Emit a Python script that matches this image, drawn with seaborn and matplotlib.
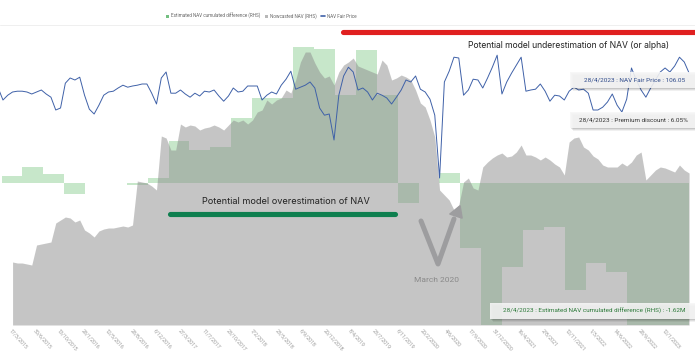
import numpy as np
import pandas as pd
import matplotlib
matplotlib.use("Agg")
import matplotlib.pyplot as plt
import seaborn as sns
from matplotlib.lines import Line2D
from matplotlib.patches import Patch, Rectangle, Polygon

# -------- data --------
# NAV fair price, sampled every 21 days, last point 28/4/2023
nav_fair_price = [
    102.3, 99.3, 100.5, 101.3, 101.5, 101.5, 101.3, 100.8, 101.3, 101.8,
    100.8, 100.0, 96.8, 97.3, 103.5, 104.8, 104.3, 105.0, 100.5, 97.0,
    95.8, 98.0, 100.5, 101.3, 101.5, 102.3, 103.0, 102.5, 102.8, 103.0,
    103.3, 103.3, 101.0, 98.3, 104.8, 106.3, 101.0, 101.0, 101.8, 100.8,
    100.0, 101.0, 100.3, 101.5, 101.3, 101.8, 100.3, 99.0, 100.3, 102.3,
    101.3, 101.5, 102.8, 102.8, 102.8, 99.3, 100.5, 101.3, 100.8, 103.0,
    104.5, 106.5, 102.0, 102.5, 103.0, 103.8, 102.3, 97.3, 95.5, 95.8,
    89.3, 100.5, 105.3, 107.5, 106.3, 101.8, 102.3, 101.3, 99.3, 101.0,
    100.5, 99.8, 98.3, 100.0, 101.8, 104.3, 103.8, 105.3, 102.0, 101.3,
    99.5, 95.5, 79.8, 103.8, 106.5, 110.0, 109.8, 100.5, 101.8, 104.5,
    104.3, 102.3, 104.8, 107.5, 110.5, 100.8, 103.8, 106.0, 108.0, 110.0,
    101.5, 101.8, 102.0, 103.3, 101.5, 99.0, 100.5, 100.3, 99.3, 101.5,
    102.5, 101.8, 102.0, 101.0, 96.8, 96.8, 97.5, 98.8, 100.8, 98.0,
    96.3, 99.5, 107.3, 104.3, 101.8, 100.0, 102.3, 104.3, 106.3, 107.3,
    106.3, 107.8, 110.0, 108.8, 106.05,
]

# Nowcasted NAV (RHS, millions), same dates
nowcasted_nav = [
    np.nan, np.nan, np.nan, 6.3, 6.2, 6.2, 6.1, 6.0, 8.0, 8.1,
    8.2, 8.3, 10.2, 10.5, 10.8, 10.7, 10.3, 10.5, 9.5, 9.2,
    8.8, 9.4, 9.6, 9.7, 9.7, 9.8, 9.9, 9.8, 10.0, 14.4,
    14.3, 14.2, 13.9, 13.5, 18.9, 18.7, 17.5, 17.5, 20.1, 19.8,
    20.0, 19.9, 19.5, 19.7, 19.8, 20.0, 19.8, 19.5, 20.0, 20.5,
    20.3, 20.5, 20.1, 20.5, 21.3, 21.5, 22.5, 22.1, 22.5, 22.7,
    23.5, 23.2, 24.5, 26.3, 27.3, 27.3, 26.2, 25.3, 24.7, 24.9,
    24.0, 25.3, 26.0, 26.3, 26.7, 25.9, 25.7, 25.5, 25.3, 25.1,
    26.5, 26.0, 24.5, 24.7, 25.0, 24.8, 24.5, 23.5, 22.2, 21.8,
    20.5, 18.8, 13.5, 13.0, 12.5, 11.5, 12.0, 14.3, 14.7, 13.7,
    13.5, 15.8, 16.3, 16.7, 17.0, 17.2, 16.8, 16.9, 17.3, 18.0,
    17.0, 17.0, 16.8, 16.5, 16.8, 16.5, 16.1, 15.8, 15.0, 18.3,
    18.7, 18.8, 17.8, 17.5, 16.9, 16.6, 16.0, 15.8, 15.8, 15.8,
    16.2, 15.9, 16.3, 17.0, 17.3, 14.5, 15.0, 15.5, 15.8, 15.7,
    15.5, 15.3, 16.0, 15.5, 15.2,
]

# Estimated NAV cumulated difference (RHS, millions), one value per quarter
diff_values = [
    0.07, 0.16, 0.09, -0.11, 0.005, 0.005, -0.02, 0.05, 0.42, 0.33,
    0.36, 0.65, 0.85, 0.85, 1.36, 1.34, 0.88, 1.33, 0.88, -0.20,
    0.0, 0.10, -0.65, -1.50, -0.84, -0.47, -0.44, -1.07, -0.80, -0.89,
    -1.48, -1.55, -1.62,
]

tick_labels = [
    "17/3/2015", "30/6/2015", "13/10/2015", "28/1/2016", "12/5/2016",
    "28/8/2016", "6/12/2016", "27/3/2017", "11/7/2017", "23/10/2017",
    "7/2/2018", "23/5/2018", "6/9/2018", "20/12/2018", "8/4/2019",
    "23/7/2019", "6/11/2019", "20/2/2020", "4/6/2020", "17/9/2020",
    "31/12/2020", "16/4/2021", "2/8/2021", "12/11/2021", "1/3/2022",
    "14/6/2022", "28/9/2022", "12/1/2023",
]

nav_dates = pd.date_range(end="2023-04-28", periods=len(nav_fair_price), freq="21D")
diff_starts = pd.date_range("2015-01-31", periods=len(diff_values), freq=pd.offsets.MonthEnd(3))
diff_ends = list(diff_starts[1:]) + [pd.Timestamp("2023-04-28")]
diff_widths = [(e - s).days for s, e in zip(diff_starts, diff_ends)]
tick_dates = pd.to_datetime(tick_labels, format="%d/%m/%Y")

# -------- styling --------
sns.set_theme(style="white")
plt.rcParams["font.family"] = ["Roboto", "DejaVu Sans"]

W, H = 695, 364
def fx(x):
    return x / W
def fy(y):
    return 1 - y / H

GREEN_BAR = (100/255, 190/255, 110/255)
GRAY_AREA = (141/255, 141/255, 141/255)
LINE_BLUE = "#3f61a8"

fig = plt.figure(figsize=(W / 100, H / 100), dpi=100)
ax_green = fig.add_axes([0, fy(325), 1, (325 - 40) / H])
ax_gray = ax_green.twinx()
ax_line = ax_green.twinx()

# green quarterly bars
ax_green.bar(diff_starts, diff_values, width=diff_widths, align="edge",
             color=GREEN_BAR, alpha=0.36, linewidth=0)
ax_green.set_ylim(-1.42, 1.43)

# gray nowcasted area on top
nc = np.array(nowcasted_nav, dtype=float)
ax_gray.fill_between(nav_dates, 0, np.nan_to_num(nc), where=~np.isnan(nc),
                     color=GRAY_AREA, alpha=0.5, linewidth=0)
ax_gray.set_ylim(0, 28.5)

# NAV fair price line
sns.lineplot(x=nav_dates, y=nav_fair_price, ax=ax_line, color=LINE_BLUE, linewidth=0.7)
ax_line.set_ylim(43.05, 114.3)

ax_green.set_xlim(pd.Timestamp("2015-01-24"), pd.Timestamp("2023-05-24"))
for a in (ax_green, ax_gray, ax_line):
    for s in a.spines.values():
        s.set_visible(False)
    a.set_yticks([])
    a.set_ylabel("")
    a.set_xlabel("")
ax_green.set_facecolor("white")

ax_green.set_xticks(tick_dates)
ax_green.set_xticklabels(tick_labels)
ax_green.tick_params(axis="x", length=2, width=0.4, color="#dddddd", pad=0.5,
                     labelsize=3.8, labelcolor="#9a9a9a")
for lbl in ax_green.get_xticklabels():
    lbl.set_rotation(-48)
    lbl.set_ha("left")
    lbl.set_va("top")
    lbl.set_rotation_mode("anchor")

# -------- legend --------
handles = [
    Patch(facecolor=(0.45, 0.75, 0.5), edgecolor="none", label="Estimated NAV cumulated difference (RHS)"),
    Patch(facecolor=(0.72, 0.72, 0.72), edgecolor="none", label="Nowcasted NAV (RHS)"),
    Line2D([0], [0], color=LINE_BLUE, lw=1.2, label="NAV Fair Price"),
]
fig.legend(handles=handles, loc="center", bbox_to_anchor=(fx(261), fy(16)), ncol=3,
           frameon=False, fontsize=3.3, handlelength=0.8, handleheight=0.7,
           handletextpad=0.4, columnspacing=0.9, labelcolor="#666666")
fig.add_artist(Line2D([0, 1], [fy(24.5), fy(24.5)], color="#ececec", lw=0.6))

# -------- annotations --------
fig.add_artist(Line2D([fx(343), fx(700)], [fy(32), fy(32)], color="#e02020",
                      lw=3.7, solid_capstyle="round"))
fig.text(fx(569), fy(45), "Potential model underestimation of NAV (or alpha)",
         ha="center", va="center", fontsize=6.2, color="#222222",
         family=["Inter", "DejaVu Sans"])

fig.add_artist(Line2D([fx(170), fx(395)], [fy(214), fy(214)], color="#0e7f4f",
                      lw=3.7, solid_capstyle="round"))
fig.text(fx(286), fy(201), "Potential model overestimation of NAV",
         ha="center", va="center", fontsize=6.6, color="#222222",
         family=["Inter", "DejaVu Sans"])

# "V" shaped arrow marking March 2020
V_GRAY = "#9d9d9f"
fig.add_artist(Line2D([fx(421), fx(438), fx(454)], [fy(221), fy(264), fy(219)],
                      color=V_GRAY, lw=3.6, solid_capstyle="round", solid_joinstyle="round"))
head_px = [(460, 206), (462, 218), (450, 214)]
fig.add_artist(Polygon([(fx(px), fy(py)) for px, py in head_px], closed=True,
                       transform=fig.transFigure, facecolor=V_GRAY, edgecolor=V_GRAY,
                       linewidth=1.2, joinstyle="round"))
fig.text(fx(437), fy(280), "March 2020", ha="center", va="center",
         fontsize=6.0, color="#8a8a8a")


def tooltip(x0, y0, x1, y1, text, color, cx):
    for off, alpha in ((3, 0.06), (2, 0.08), (1, 0.1)):
        fig.add_artist(Rectangle((fx(x0 + off), fy(y1 + off)), (x1 - x0) / W, (y1 - y0) / H,
                                 transform=fig.transFigure, facecolor="black",
                                 alpha=alpha, linewidth=0))
    fig.add_artist(Rectangle((fx(x0), fy(y1)), (x1 - x0) / W, (y1 - y0) / H,
                             transform=fig.transFigure, facecolor="#f7f7f7",
                             alpha=0.88, linewidth=0))
    fig.text(fx(cx), fy((y0 + y1) / 2), text, ha="center", va="center",
             fontsize=4.6, color=color)


tooltip(570, 72, 700, 88, "28/4/2023 : NAV Fair Price : 106.05", "#2e4a8a", 635)
tooltip(570, 112, 700, 128, "28/4/2023 : Premium discount : 6.05%", "#333333", 633)
tooltip(490, 303, 700, 319, "28/4/2023 : Estimated NAV cumulated difference (RHS) : -1.62M",
        "#2d7a3a", 594)

fig.savefig("out.png", dpi=100)
